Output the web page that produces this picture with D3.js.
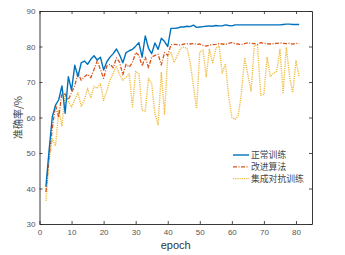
<!DOCTYPE html>
<html>
<head>
<meta charset="utf-8">
<script src="https://cdn.jsdelivr.net/npm/d3@7"></script>
<style>
  body { margin: 0; background: #fff; }
  svg { display: block; }
</style>
</head>
<body>
<div id="chart"></div>
<script>
// epochs 2..81
const epochs = d3.range(2, 82);

const normalTrain = [
  40.5, 50.8, 60.2, 63.5, 65, 68.9, 61.2, 71.5, 67.7, 74.7,
  71.5, 75.4, 75.9, 75, 76.4, 77.4, 76.2, 77, 73.4, 75.7,
  77, 78, 79.3, 77.6, 75.4, 78.3, 78.8, 79.2, 80.1, 81.1,
  77, 83, 79.5, 78, 81, 79.2, 82.3, 81.4, 80, 85.1,
  85.1, 85.2, 85.5, 85.5, 85.7, 85.6, 86, 85.4, 85.5, 85.6,
  85.7, 85.8, 85.7, 85.9, 85.8, 85.8, 86.1, 85.9, 85.8, 86.1,
  86.1, 86.1, 86.1, 86.1, 86.1, 86.1, 86.1, 86.1, 86.1, 86.1,
  86.1, 86.1, 86.1, 86.1, 86.2, 86.3, 86.3, 86.2, 86.2, 86.2
];

const improved = [
  39, 49, 57, 63.5, 60, 67, 66.5, 65, 67, 69,
  72.5, 70.5, 71.5, 72.2, 71.2, 73.5, 76, 73.5, 71, 74.5,
  75, 74, 76.8, 75.5, 72, 75, 74.2, 75.5, 78.3, 77.5,
  74.5, 77, 74, 77, 77.5, 77.8, 74.8, 78.3, 77.5, 80.5,
  80.6, 80.5, 80.4, 80.7, 80.8, 80.7, 80.8, 80.6, 80.7, 80.3,
  80.1, 80.4, 80.5, 80.6, 80.8, 80.7, 80.6, 80.9, 81.1, 80.8,
  80.7, 80.5, 80.8, 81, 80.9, 80.8, 80.6, 81.1, 80.9, 80.8,
  80.7, 80.8, 80.9, 81, 80.9, 80.8, 80.9, 80.7, 80.9, 80.9
];

const ensembleAdv = [
  36.5, 48, 54, 52, 62, 57.5, 67, 64.5, 63, 65,
  67, 63.2, 65, 68.2, 65.5, 68.8, 68.2, 69.5, 64.8, 67.5,
  70.5, 72.5, 74.5, 72, 70.5, 71.3, 72.3, 63, 73, 72.3,
  62, 61.8, 71, 69.5, 61, 58, 72.8, 61, 77.2, 78.5,
  75.5, 77.5, 79.5, 79.8, 79.5, 75.5, 69, 62.5, 78.5, 79,
  71.5, 79.2, 75.2, 79.5, 80.2, 72.5, 75.2, 66, 60, 59.5,
  60.5, 67, 76.8, 72, 67.5, 80.2, 80.5, 66.3, 66.5, 77,
  71.5, 72.5, 73, 79.2, 67, 79.8, 71.5, 67, 76, 71.5
];

const seriesNames = ["正常训练", "改进算法", "集成对抗训练"];
const xTicks = [0, 10, 20, 30, 40, 50, 60, 70, 80];
const yTicks = [30, 40, 50, 60, 70, 80, 90];

const W = 345, H = 255;
const margin = { left: 39.5, right: 33, top: 11, bottom: 31 };

const svg = d3.select("#chart").append("svg")
  .attr("width", W)
  .attr("height", H);

const x = d3.scaleLinear().domain([0, 85]).range([margin.left, W - margin.right]);
const y = d3.scaleLinear().domain([30, 90]).range([H - margin.bottom, margin.top]);

const series = [
  { name: seriesNames[0], values: normalTrain, color: "#0072BD", width: 1.4, dash: null, opacity: 1 },
  { name: seriesNames[1], values: improved, color: "#D95319", width: 1.3, dash: "4,1.5,1,1.5", opacity: 1 },
  { name: seriesNames[2], values: ensembleAdv, color: "#EDB120", width: 1.4, dash: "1.2,1", opacity: 0.85 }
];

const line = d3.line()
  .x((d, i) => x(epochs[i]))
  .y(d => y(d));

// draw lines, last series first so blue sits on top
const lineGroup = svg.append("g");
[...series].reverse().forEach(s => {
  lineGroup.append("path")
    .datum(s.values)
    .attr("d", line)
    .attr("fill", "none")
    .attr("stroke", s.color)
    .attr("stroke-width", s.width)
    .attr("stroke-opacity", s.opacity)
    .attr("stroke-dasharray", s.dash)
    .attr("stroke-linejoin", "round");
});

// axes (ticks inward, box with ticks on all sides)
const tickStyle = g => {
  g.select(".domain").attr("stroke", "#222").attr("stroke-width", 0.9);
  g.selectAll(".tick line").attr("stroke", "#222").attr("stroke-width", 0.8);
  g.selectAll(".tick text")
    .attr("fill", "#555")
    .style("font-family", "Liberation Sans, Arial, sans-serif")
    .style("font-size", "8px");
};

svg.append("g")
  .attr("transform", `translate(0,${y(30)})`)
  .call(d3.axisBottom(x).tickValues(xTicks).tickSize(-3).tickPadding(5).tickSizeOuter(0))
  .call(tickStyle);

svg.append("g")
  .attr("transform", `translate(0,${y(90)})`)
  .call(d3.axisTop(x).tickValues(xTicks).tickSize(-3).tickFormat("").tickSizeOuter(0))
  .call(tickStyle);

svg.append("g")
  .attr("transform", `translate(${x(0)},0)`)
  .call(d3.axisLeft(y).tickValues(yTicks).tickSize(-3).tickPadding(4).tickSizeOuter(0))
  .call(tickStyle);

svg.append("g")
  .attr("transform", `translate(${x(85)},0)`)
  .call(d3.axisRight(y).tickValues(yTicks).tickSize(-3).tickFormat("").tickSizeOuter(0))
  .call(tickStyle);

// axis titles
svg.append("text")
  .attr("x", (x(0) + x(85)) / 2)
  .attr("y", 249)
  .attr("text-anchor", "middle")
  .attr("fill", "#333")
  .style("font-family", "Liberation Sans, Arial, sans-serif")
  .style("font-size", "11px")
  .text("epoch");

svg.append("text")
  .attr("transform", `translate(22,${(y(30) + y(90)) / 2}) rotate(-90)`)
  .attr("text-anchor", "middle")
  .attr("fill", "#444")
  .style("font-family", "Noto Sans CJK SC, sans-serif")
  .style("font-size", "10px")
  .text("准确率/%");

// legend
const legend = svg.append("g").attr("transform", "translate(233,155)");
series.forEach((s, i) => {
  const row = legend.append("g").attr("transform", `translate(0,${i * 11.8})`);
  row.append("line")
    .attr("x1", 0).attr("x2", 16)
    .attr("y1", 0).attr("y2", 0)
    .attr("stroke", s.color)
    .attr("stroke-width", s.width)
    .attr("stroke-opacity", s.opacity)
    .attr("stroke-dasharray", s.dash);
  row.append("text")
    .attr("x", 18)
    .attr("y", 3.2)
    .attr("fill", "#444")
    .style("font-family", "Noto Sans CJK SC, sans-serif")
    .style("font-size", "8.8px")
    .text(s.name);
});
</script>
</body>
</html>
